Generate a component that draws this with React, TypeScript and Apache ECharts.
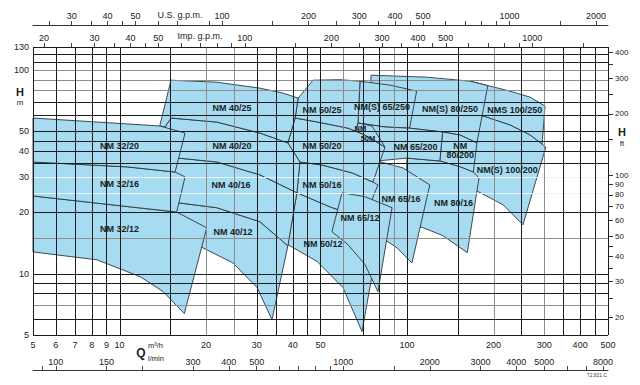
import { useEffect, useRef } from 'react';
import * as echarts from 'echarts';

// ---------- axis ranges (Q in m³/h, H in m) ----------
const Q_MIN = 5;
const Q_MAX = 500;
const H_MIN = 5;
const H_MAX = 130;
const US_GPM = 4.40287;
const IMP_GPM = 3.66615;
const LPM = 1000 / 60;
const FT = 3.28084;

// ---------- tick labels ----------
const qLabels = [5, 6, 7, 8, 9, 10, 20, 30, 40, 50, 100, 200, 300, 400, 500];
const hLabels = [5, 10, 20, 30, 40, 50, 100, 130];
const usLabels = [30, 40, 50, 100, 200, 300, 400, 500, 1000, 2000];
const usTicks = [25, 30, 35, 40, 45, 50, 60, 70, 90, 100, 150, 200, 250, 300, 350, 400, 450, 500, 600, 700, 800, 900, 1000, 1500, 2000];
const impLabels = [20, 30, 40, 50, 100, 200, 300, 400, 500, 1000];
const impTicks = [20, 25, 30, 35, 40, 45, 50, 60, 70, 80, 90, 100, 150, 200, 250, 300, 350, 400, 450, 500, 600, 700, 800, 900, 1000, 1500];
const lpmLabels = [100, 150, 300, 400, 500, 1000, 2000, 3000, 4000, 5000, 8000];
const lpmTicks = [90, 100, 150, 200, 300, 400, 500, 600, 700, 800, 900, 1000, 1500, 2000, 3000, 4000, 5000, 6000, 7000, 8000];
const ftLabels = [20, 30, 40, 50, 60, 70, 80, 90, 100, 200, 300, 400];
const ftTicks = [20, 25, 30, 35, 40, 45, 50, 60, 70, 80, 90, 100, 150, 200, 250, 300, 350, 400];

// ---------- grid lines ----------
const gridQBlack = [5, 6, 7, 8, 9, 10, 15, 30, 35, 40, 45, 50, 70, 80, 100, 150, 250, 350, 400, 450, 500];
const gridQGrey = [20, 25, 60, 90, 200, 300];
const gridHBlack = [5, 6, 8, 9, 10, 20, 35, 40, 45, 50, 60, 70, 110, 120, 130];
const gridHGrey = [7, 15, 80, 90, 100];
const gridHWhite = [25, 30];

// ---------- pump ranges: [Q m³/h, H m] ----------
const nm32_20 = [[5, 58.2], [9.49, 55.0], [13.8, 53.2], [16.9, 49.1], [15.6, 31.6], [10.6, 33.5], [5, 35.4]];
const nm32_16 = [[5, 35.4], [10.6, 33.5], [15.6, 31.6], [16.9, 29.9], [15.8, 20.1], [10.9, 21.3], [5, 24.1]];
const nm32_12 = [[5, 24.1], [10.9, 21.3], [15.8, 20.1], [20.1, 16.8], [16.8, 6.37], [14.2, 8.16], [11.8, 9.67], [8.35, 11.7], [5, 12.8]];

const nm40_25 = [[15.1, 89.3], [21.8, 87.3], [30.8, 81.6], [37.0, 77.2], [41.8, 72.9], [40.8, 58.2], [38.5, 43.9], [30.8, 49.1], [21.8, 55.6], [15.1, 58.2], [14.4, 52.6], [13.8, 53.2]];
const nm40_20 = [[15.1, 58.2], [21.8, 55.6], [30.8, 49.1], [38.5, 43.9], [42.4, 35.4], [41.4, 25.0], [30.8, 30.6], [21.8, 35.4], [16.0, 37.0], [15.2, 40.5], [14.4, 52.6]];
const nm40_16 = [[16.0, 37.0], [21.8, 35.4], [30.8, 30.6], [41.4, 25.0], [38.5, 13.7], [30.8, 18.0], [21.8, 21.1], [16.0, 22.3], [15.0, 25.8], [15.0, 34.2]];
const nm40_12 = [[16.0, 22.3], [21.8, 21.1], [30.8, 18.0], [38.5, 13.7], [33.9, 5.95], [30.1, 8.54], [24.8, 11.3], [19.5, 13.4], [17.6, 14.7], [15.6, 19.5]];

const nm50_25 = [[47.1, 89.3], [58.5, 89.8], [68.6, 88.3], [67.5, 55.0], [66.4, 50.2], [62.3, 51.9], [49.0, 55.6], [40.8, 58.2], [41.8, 72.9]];
const nm50_20 = [[40.8, 58.2], [49.0, 55.6], [62.3, 51.9], [71.4, 48.0], [83.8, 41.9], [76.1, 28.2], [64.4, 31.3], [50.6, 34.2], [42.4, 35.4], [38.5, 43.9]];
const nm50_m = [[67.5, 55.0], [75.5, 53.2], [83.8, 41.9], [71.4, 48.0], [66.4, 50.2]];
const nm50_16 = [[42.4, 35.4], [50.6, 34.2], [64.4, 31.3], [76.1, 28.2], [79.2, 27.3], [74.3, 21.8], [60.8, 20.1], [54.0, 21.3], [41.4, 25.0]];
const nm50_12 = [[41.4, 25.0], [54.0, 21.3], [60.8, 20.1], [80.5, 16.1], [69.7, 5.2], [59.9, 8.54], [48.6, 11.5], [38.5, 13.9]];

const nm65_250 = [[68.6, 88.3], [87.3, 84.4], [108, 78.9], [102, 51.9], [83.8, 52.6], [67.5, 55.0]];
const nm65_200 = [[67.5, 55.0], [83.8, 52.6], [102, 51.9], [133, 49.7], [130, 35.8], [100, 37.0], [78.6, 35.8], [74.3, 34.2]];
const nm65_16 = [[78.6, 35.8], [96.8, 33.1], [120, 27.3], [104, 11.3], [92.3, 13.4], [81.9, 15.0], [77.4, 15.5], [73.1, 23.1]];
const nm65_12 = [[59.4, 25.0], [71.4, 23.9], [88.7, 21.1], [79.2, 8.16], [71.4, 11.1], [62.3, 13.9], [54.8, 16.1]];

const nm80_250 = [[74.9, 94.5], [117, 92.4], [166, 88.3], [191, 84.0], [175, 43.9], [153, 48.0], [133, 49.7], [102, 51.9], [83.8, 52.6], [74.9, 56.2]];
const nm80_200 = [[133, 49.7], [153, 48.0], [175, 43.9], [170, 31.6], [153, 33.5], [130, 35.8]];
const nm80_16 = [[100, 37.0], [130, 35.8], [153, 33.5], [170, 31.6], [178, 29.6], [162, 12.7], [133, 15.4], [114, 16.8], [98.4, 17.6]];

const nm100_250 = [[166, 88.3], [228, 78.9], [268, 73.7], [302, 66.6], [295, 43.4], [268, 48.0], [228, 53.8], [184, 59.5], [166, 71.3]];
const nm100_200 = [[184, 59.5], [228, 53.8], [268, 48.0], [304, 41.9], [253, 17.4], [216, 21.8], [175, 25.5], [166, 26.1], [166, 36.2], [177, 56.9]];

// drawing order (first = underneath)
const bands = [
  nm100_250, nm100_200, nm80_250, nm80_200, nm80_16,
  nm65_250, nm65_200, nm65_16, nm50_12, nm50_16, nm65_12, nm50_20, nm50_m, nm50_25,
  nm40_12, nm40_16, nm40_20, nm40_25,
  nm32_12, nm32_16, nm32_20,
];

// ---------- model labels ----------
const labelTexts = [
  'NM 32/20', 'NM 32/16', 'NM 32/12',
  'NM 40/25', 'NM 40/20', 'NM 40/16', 'NM 40/12',
  'NM 50/25', 'NM 50/20', 'NM 50/16', 'NM 50/12', 'NM', '50M',
  'NM(S) 65/250', 'NM 65/200', 'NM 65/16', 'NM 65/12',
  'NM(S) 80/250', 'NM', '80/200', 'NM 80/16',
  'NMS 100/250', 'NM(S) 100/200',
];
const labelSize = [9, 9, 9, 9, 9, 9, 9, 9, 9, 9, 9, 7.5, 7.5, 9, 9, 9, 9, 9, 9, 9, 9, 9, 9];
const labelQ = [10.0, 10.0, 10.0, 24.6, 24.6, 24.4, 24.8, 50.6, 50.6, 50.6, 51.0, 68.8, 73.1, 81.9, 107, 95.3, 68.6, 141, 153, 153, 145, 237, 223];
const labelH = [42.4, 27.6, 16.6, 65.1, 42.4, 27.3, 16.1, 63.7, 42.4, 27.3, 14.0, 51.5, 46.0, 65.9, 41.9, 23.3, 18.8, 64.4, 42.4, 38.3, 22.3, 63.7, 32.3];

const FONT = "'Liberation Sans', Arial, Helvetica, sans-serif";
const TXT = '#222';
const LG = (v: number) => Math.log10(v);
const lg = (a: number[]) => a.map((v) => Math.log10(v));
const fmt = (v: number) => String(Math.round(Math.pow(10, v)));
const LX0 = LG(Q_MIN), LX1 = LG(Q_MAX), LY0 = LG(H_MIN), LY1 = LG(H_MAX);

const gridColors = ['#1c1c1c', '#8c8c8c', '#eaf7fd'];
const gridData: number[][] = [
  ...gridHWhite.map((h) => [LX0, LG(h), 1, 2]),
  ...gridQGrey.map((q) => [LG(q), LY0, 0, 1]),
  ...gridHGrey.map((h) => [LX0, LG(h), 1, 1]),
  ...gridQBlack.map((q) => [LG(q), LY0, 0, 0]),
  ...gridHBlack.map((h) => [LX0, LG(h), 1, 0]),
];

const baseLabel = { fontSize: 9, color: TXT, fontFamily: FONT };

function buildOption(): any {
  return {
    animation: false,
    backgroundColor: '#fff',
    grid: { left: 33, right: 32, top: 47, bottom: 50, containLabel: false },
    xAxis: [
      {
        type: 'value', min: LX0, max: LX1, position: 'bottom',
        axisLine: { show: false }, axisTick: { show: false }, splitLine: { show: false },
        axisLabel: { ...baseLabel, customValues: lg(qLabels), formatter: fmt, margin: 5 },
      },
      {
        type: 'value', min: LG(Q_MIN * US_GPM), max: LG(Q_MAX * US_GPM), position: 'top', offset: 22,
        axisLine: { show: true, lineStyle: { color: '#333', width: 1 } },
        axisTick: { show: true, customValues: lg(usTicks), length: 4, lineStyle: { color: '#444' } },
        splitLine: { show: false },
        axisLabel: { ...baseLabel, customValues: lg(usLabels), formatter: fmt, margin: 5 },
      },
      {
        type: 'value', min: LG(Q_MIN * IMP_GPM), max: LG(Q_MAX * IMP_GPM), position: 'top', offset: 0,
        axisLine: { show: false },
        axisTick: { show: true, customValues: lg(impTicks), length: 4, lineStyle: { color: '#444' } },
        splitLine: { show: false },
        axisLabel: { ...baseLabel, customValues: lg(impLabels), formatter: fmt, margin: 5 },
      },
      {
        type: 'value', min: LG(Q_MIN * LPM), max: LG(Q_MAX * LPM), position: 'bottom', offset: 35,
        axisLine: { show: true, lineStyle: { color: '#333', width: 1 } },
        axisTick: { show: true, inside: true, customValues: lg(lpmTicks), length: 4, lineStyle: { color: '#444' } },
        splitLine: { show: false },
        axisLabel: { ...baseLabel, inside: true, customValues: lg(lpmLabels), formatter: fmt, margin: 4 },
      },
    ],
    yAxis: [
      {
        type: 'value', min: LY0, max: LY1, position: 'left',
        axisLine: { show: false }, axisTick: { show: false }, splitLine: { show: false },
        axisLabel: { ...baseLabel, customValues: lg(hLabels), formatter: fmt, margin: 4 },
      },
      {
        type: 'value', min: LG(H_MIN * FT), max: LG(H_MAX * FT), position: 'right',
        axisLine: { show: false },
        axisTick: { show: true, customValues: lg(ftTicks), length: 5, lineStyle: { color: '#333' } },
        splitLine: { show: false },
        axisLabel: { ...baseLabel, fontSize: 8, customValues: lg(ftLabels), formatter: fmt, margin: 7 },
      },
    ],
    graphic: [
      { type: 'text', x: 20, y: 92, style: { text: 'H', font: `bold 11px ${FONT}`, fill: TXT, align: 'center', verticalAlign: 'middle' } },
      { type: 'text', x: 20, y: 102, style: { text: 'm', font: `8px ${FONT}`, fill: TXT, align: 'center', verticalAlign: 'middle' } },
      { type: 'text', x: 622, y: 132, style: { text: 'H', font: `bold 11px ${FONT}`, fill: TXT, align: 'center', verticalAlign: 'middle' } },
      { type: 'text', x: 622, y: 143, style: { text: 'ft', font: `8px ${FONT}`, fill: TXT, align: 'center', verticalAlign: 'middle' } },
      { type: 'text', x: 141, y: 353, style: { text: 'Q', font: `bold 12px ${FONT}`, fill: TXT, align: 'center', verticalAlign: 'middle' } },
      { type: 'text', x: 148, y: 345, style: { text: 'm³/h', font: `7.5px ${FONT}`, fill: TXT, align: 'left', verticalAlign: 'middle' } },
      { type: 'text', x: 148, y: 358, style: { text: 'l/min', font: `7.5px ${FONT}`, fill: TXT, align: 'left', verticalAlign: 'middle' } },
      { type: 'text', x: 180, y: 15, style: { text: 'U.S. g.p.m.', font: `9px ${FONT}`, fill: TXT, align: 'center', verticalAlign: 'middle' } },
      { type: 'text', x: 200, y: 36, style: { text: 'Imp. g.p.m.', font: `9px ${FONT}`, fill: TXT, align: 'center', verticalAlign: 'middle' } },
      { type: 'text', x: 597, y: 375, style: { text: '72.821.C', font: `5px ${FONT}`, fill: '#444', align: 'center', verticalAlign: 'middle' } },
    ],
    series: [
      {
        type: 'custom', z: 1, xAxisIndex: 0, yAxisIndex: 0, silent: true,
        data: bands.map((b, i) => [LG(b[0][0]), LG(b[0][1]), i]),
        renderItem: (params: any, api: any) => {
          const band = bands[api.value(2)];
          const points = band.map((p) => api.coord([LG(p[0]), LG(p[1])]));
          return {
            type: 'polygon',
            shape: { points },
            style: { fill: '#a6dbf2', stroke: '#2a363f', lineWidth: 0.9 },
          };
        },
      },
      {
        type: 'custom', z: 2, xAxisIndex: 0, yAxisIndex: 0, silent: true,
        data: gridData,
        renderItem: (params: any, api: any) => {
          const kind = api.value(2);
          const col = gridColors[api.value(3)];
          if (kind === 0) {
            const a = api.coord([api.value(0), LY0]);
            const b = api.coord([api.value(0), LY1]);
            const x = Math.round(a[0]) + 0.5;
            return { type: 'line', shape: { x1: x, y1: a[1], x2: x, y2: b[1] }, style: { stroke: col, lineWidth: 1 } };
          }
          const a = api.coord([LX0, api.value(1)]);
          const b = api.coord([LX1, api.value(1)]);
          const y = Math.round(a[1]) + 0.5;
          return { type: 'line', shape: { x1: a[0], y1: y, x2: b[0], y2: y }, style: { stroke: col, lineWidth: 1 } };
        },
      },
      {
        type: 'custom', z: 3, xAxisIndex: 0, yAxisIndex: 0, silent: true,
        data: labelTexts.map((t, i) => [LG(labelQ[i]), LG(labelH[i]), i]),
        renderItem: (params: any, api: any) => {
          const i = api.value(2);
          const p = api.coord([api.value(0), api.value(1)]);
          return {
            type: 'text',
            x: p[0], y: p[1],
            style: {
              text: labelTexts[i],
              fill: '#1b1e22',
              font: `bold ${labelSize[i]}px ${FONT}`,
              align: 'center', verticalAlign: 'middle',
            },
          };
        },
      },
    ],
  };
}

export default function App() {
  const ref = useRef<HTMLDivElement>(null);
  useEffect(() => {
    if (!ref.current) return;
    const chart = echarts.init(ref.current, null, { renderer: 'svg' });
    chart.setOption(buildOption());
    return () => chart.dispose();
  }, []);
  return (
    <div
      ref={ref}
      style={{ position: 'absolute', left: 0, top: 0, width: 640, height: 385, background: '#fff' }}
    />
  );
}
